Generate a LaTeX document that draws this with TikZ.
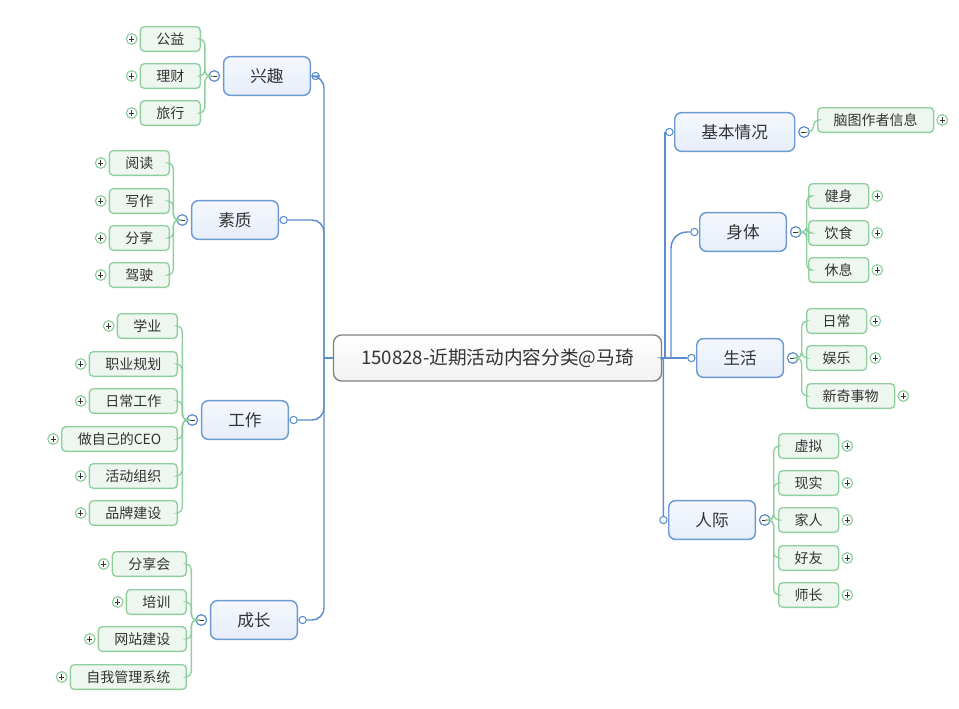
\documentclass[tikz,border=0pt]{standalone}
\usepackage{fontspec}
\newfontfamily\cjk{Noto Sans CJK SC}
\usetikzlibrary{positioning}
\definecolor{blueline}{HTML}{5B8CCB}
\definecolor{mainborder}{HTML}{6D9AD2}
\definecolor{maintop}{HTML}{F4F8FD}
\definecolor{mainbot}{HTML}{E6EEF9}
\definecolor{greenline}{HTML}{8FCF9D}
\definecolor{subfill}{HTML}{EEF6F0}
\definecolor{rootfill}{HTML}{F2F2F2}
\definecolor{rootborder}{HTML}{7F7F7F}
\definecolor{txt}{HTML}{333333}

\begin{document}
\begin{tikzpicture}[x=0.75pt,y=-0.75pt,
    rootnode/.style={draw=rootborder,line width=1pt,top color=white,bottom color=rootfill,rounded corners=6pt,
      minimum width=246pt,minimum height=34.5pt,text=txt,font=\cjk\fontsize{14}{16}\selectfont},
    mainnode/.style={draw=mainborder,line width=1.1pt,top color=maintop,bottom color=mainbot,rounded corners=5pt,
      inner xsep=20pt,minimum height=29pt,text=txt,font=\cjk\fontsize{12.5}{15}\selectfont},
    subnode/.style={draw=greenline,line width=1pt,fill=subfill,rounded corners=3pt,
      inner xsep=12pt,minimum height=18.5pt,text=txt,font=\cjk\fontsize{10.5}{12}\selectfont},
    dotc/.style={circle,draw=blueline,fill=white,line width=0.8pt,inner sep=0pt,minimum size=5.5pt},
    minusc/.style={circle,draw=blueline,fill=white,line width=0.9pt,inner sep=0pt,minimum size=8pt,
      path picture={\draw[txt,line width=0.55pt] ([xshift=-2pt]path picture bounding box.center) -- ([xshift=2pt]path picture bounding box.center);}},
    plusc/.style={circle,draw=greenline,fill=white,line width=0.9pt,inner sep=0pt,minimum size=8pt,
      path picture={\draw[txt,line width=0.55pt] ([xshift=-2pt]path picture bounding box.center) -- ([xshift=2pt]path picture bounding box.center)
        ([yshift=-2pt]path picture bounding box.center) -- ([yshift=2pt]path picture bounding box.center);}},
    bline/.style={draw=blueline,line width=1.1pt},
    gline/.style={draw=greenline,line width=1pt,rounded corners=4pt}]
  \useasboundingbox (0,0) rectangle (959,708);

  % root
  \node[rootnode] (root) at (497.5,358) {150828-近期活动内容分类@马琦};

  % left branches
  \node[mainnode,anchor=east] (xq) at (311,76) {兴趣};
  \node[mainnode,anchor=east] (sz) at (279,220) {素质};
  \node[mainnode,anchor=east] (gz) at (289,420) {工作};
  \node[mainnode,anchor=east] (cz) at (298,620) {成长};
  \foreach \m in {xq,sz,gz,cz} {
    \node[dotc,right=0.3pt of \m] (\m-d) {};
    \node[minusc,left=2pt of \m] (\m-m) {};
  }

  % right branches
  \node[mainnode,anchor=west] (jb) at (674,132) {基本情况};
  \node[mainnode,anchor=west] (st) at (699,232) {身体};
  \node[mainnode,anchor=west] (sh) at (696,358) {生活};
  \node[mainnode,anchor=west] (rj) at (668,520) {人际};
  \foreach \m in {jb,st,sh,rj} {
    \node[dotc,left=0.3pt of \m] (\m-d) {};
    \node[minusc,right=2pt of \m] (\m-m) {};
  }

  % trunks
  \coordinate (lt) at (324,358);
  \coordinate (rt2) at (671,358);
  \draw[bline] (root.west) -- (lt);
  \foreach \m in {xq,sz,gz,cz}
    \draw[bline,rounded corners=9pt] (lt) |- (\m-d.east);
  \draw[bline] (jb-d.west |- root.east) -- (jb-d.west);
  \draw[bline,rounded corners=12pt] (rt2) |- (st-d.west);
  \draw[bline] (root.east) -- (sh-d.west);
  \draw[bline,rounded corners=2pt] (root.east) -| (rj-d.north);

  % leaves, left
  \foreach \n/\t/\y in {gy/公益/39, lc/理财/76, lx/旅行/113} {
    \node[subnode,anchor=east] (\n) at (201,\y) {\t};
    \node[plusc,left=1.5pt of \n] {};
    \draw[gline] (xq-m.west) -- ++(-3.5,0) |- (\n.east);
  }
  \foreach \n/\t/\y in {yd/阅读/163, xzo/写作/201, fxa/分享/238, jsh/驾驶/275} {
    \node[subnode,anchor=east] (\n) at (170,\y) {\t};
    \node[plusc,left=1.5pt of \n] {};
    \draw[gline] (sz-m.west) -- ++(-3,0) |- (\n.east);
  }
  \foreach \n/\t/\y in {xy/学业/326, zy/职业规划/364, rcg/日常工作/401, ceo/做自己的CEO/439, hd/活动组织/476, pp/品牌建设/513} {
    \node[subnode,anchor=east] (\n) at (178,\y) {\t};
    \node[plusc,left=1.5pt of \n] {};
    \draw[gline] (gz-m.west) -- ++(-4,0) |- (\n.east);
  }
  \foreach \n/\t/\y in {fxh/分享会/564, px/培训/602, wz/网站建设/639, zw/自我管理系统/677} {
    \node[subnode,anchor=east] (\n) at (187,\y) {\t};
    \node[plusc,left=1.5pt of \n] {};
    \draw[gline] (cz-m.west) -- ++(-4,0) |- (\n.east);
  }

  % leaves, right
  \node[subnode,anchor=west] (nt) at (817,120) {脑图作者信息};
  \node[plusc,right=1.5pt of nt] {};
  \draw[gline] (jb-m.east) -- ++(3.5,0) |- (nt.west);
  \foreach \n/\t/\y in {jsn/健身/196, ys/饮食/233, xx/休息/270} {
    \node[subnode,anchor=west] (\n) at (808,\y) {\t};
    \node[plusc,right=1.5pt of \n] {};
    \draw[gline] (st-m.east) -- ++(5,0) |- (\n.west);
  }
  \foreach \n/\t/\y in {rch/日常/321, yl/娱乐/358, xqs/新奇事物/396} {
    \node[subnode,anchor=west] (\n) at (806,\y) {\t};
    \node[plusc,right=1.5pt of \n] {};
    \draw[gline] (sh-m.east) -- ++(3,0) |- (\n.west);
  }
  \foreach \n/\t/\y in {xn/虚拟/446, xs/现实/483, jr/家人/520, hy/好友/558, sc/师长/595} {
    \node[subnode,anchor=west] (\n) at (778,\y) {\t};
    \node[plusc,right=1.5pt of \n] {};
    \draw[gline] (rj-m.east) -- ++(3,0) |- (\n.west);
  }
\end{tikzpicture}
\end{document}
